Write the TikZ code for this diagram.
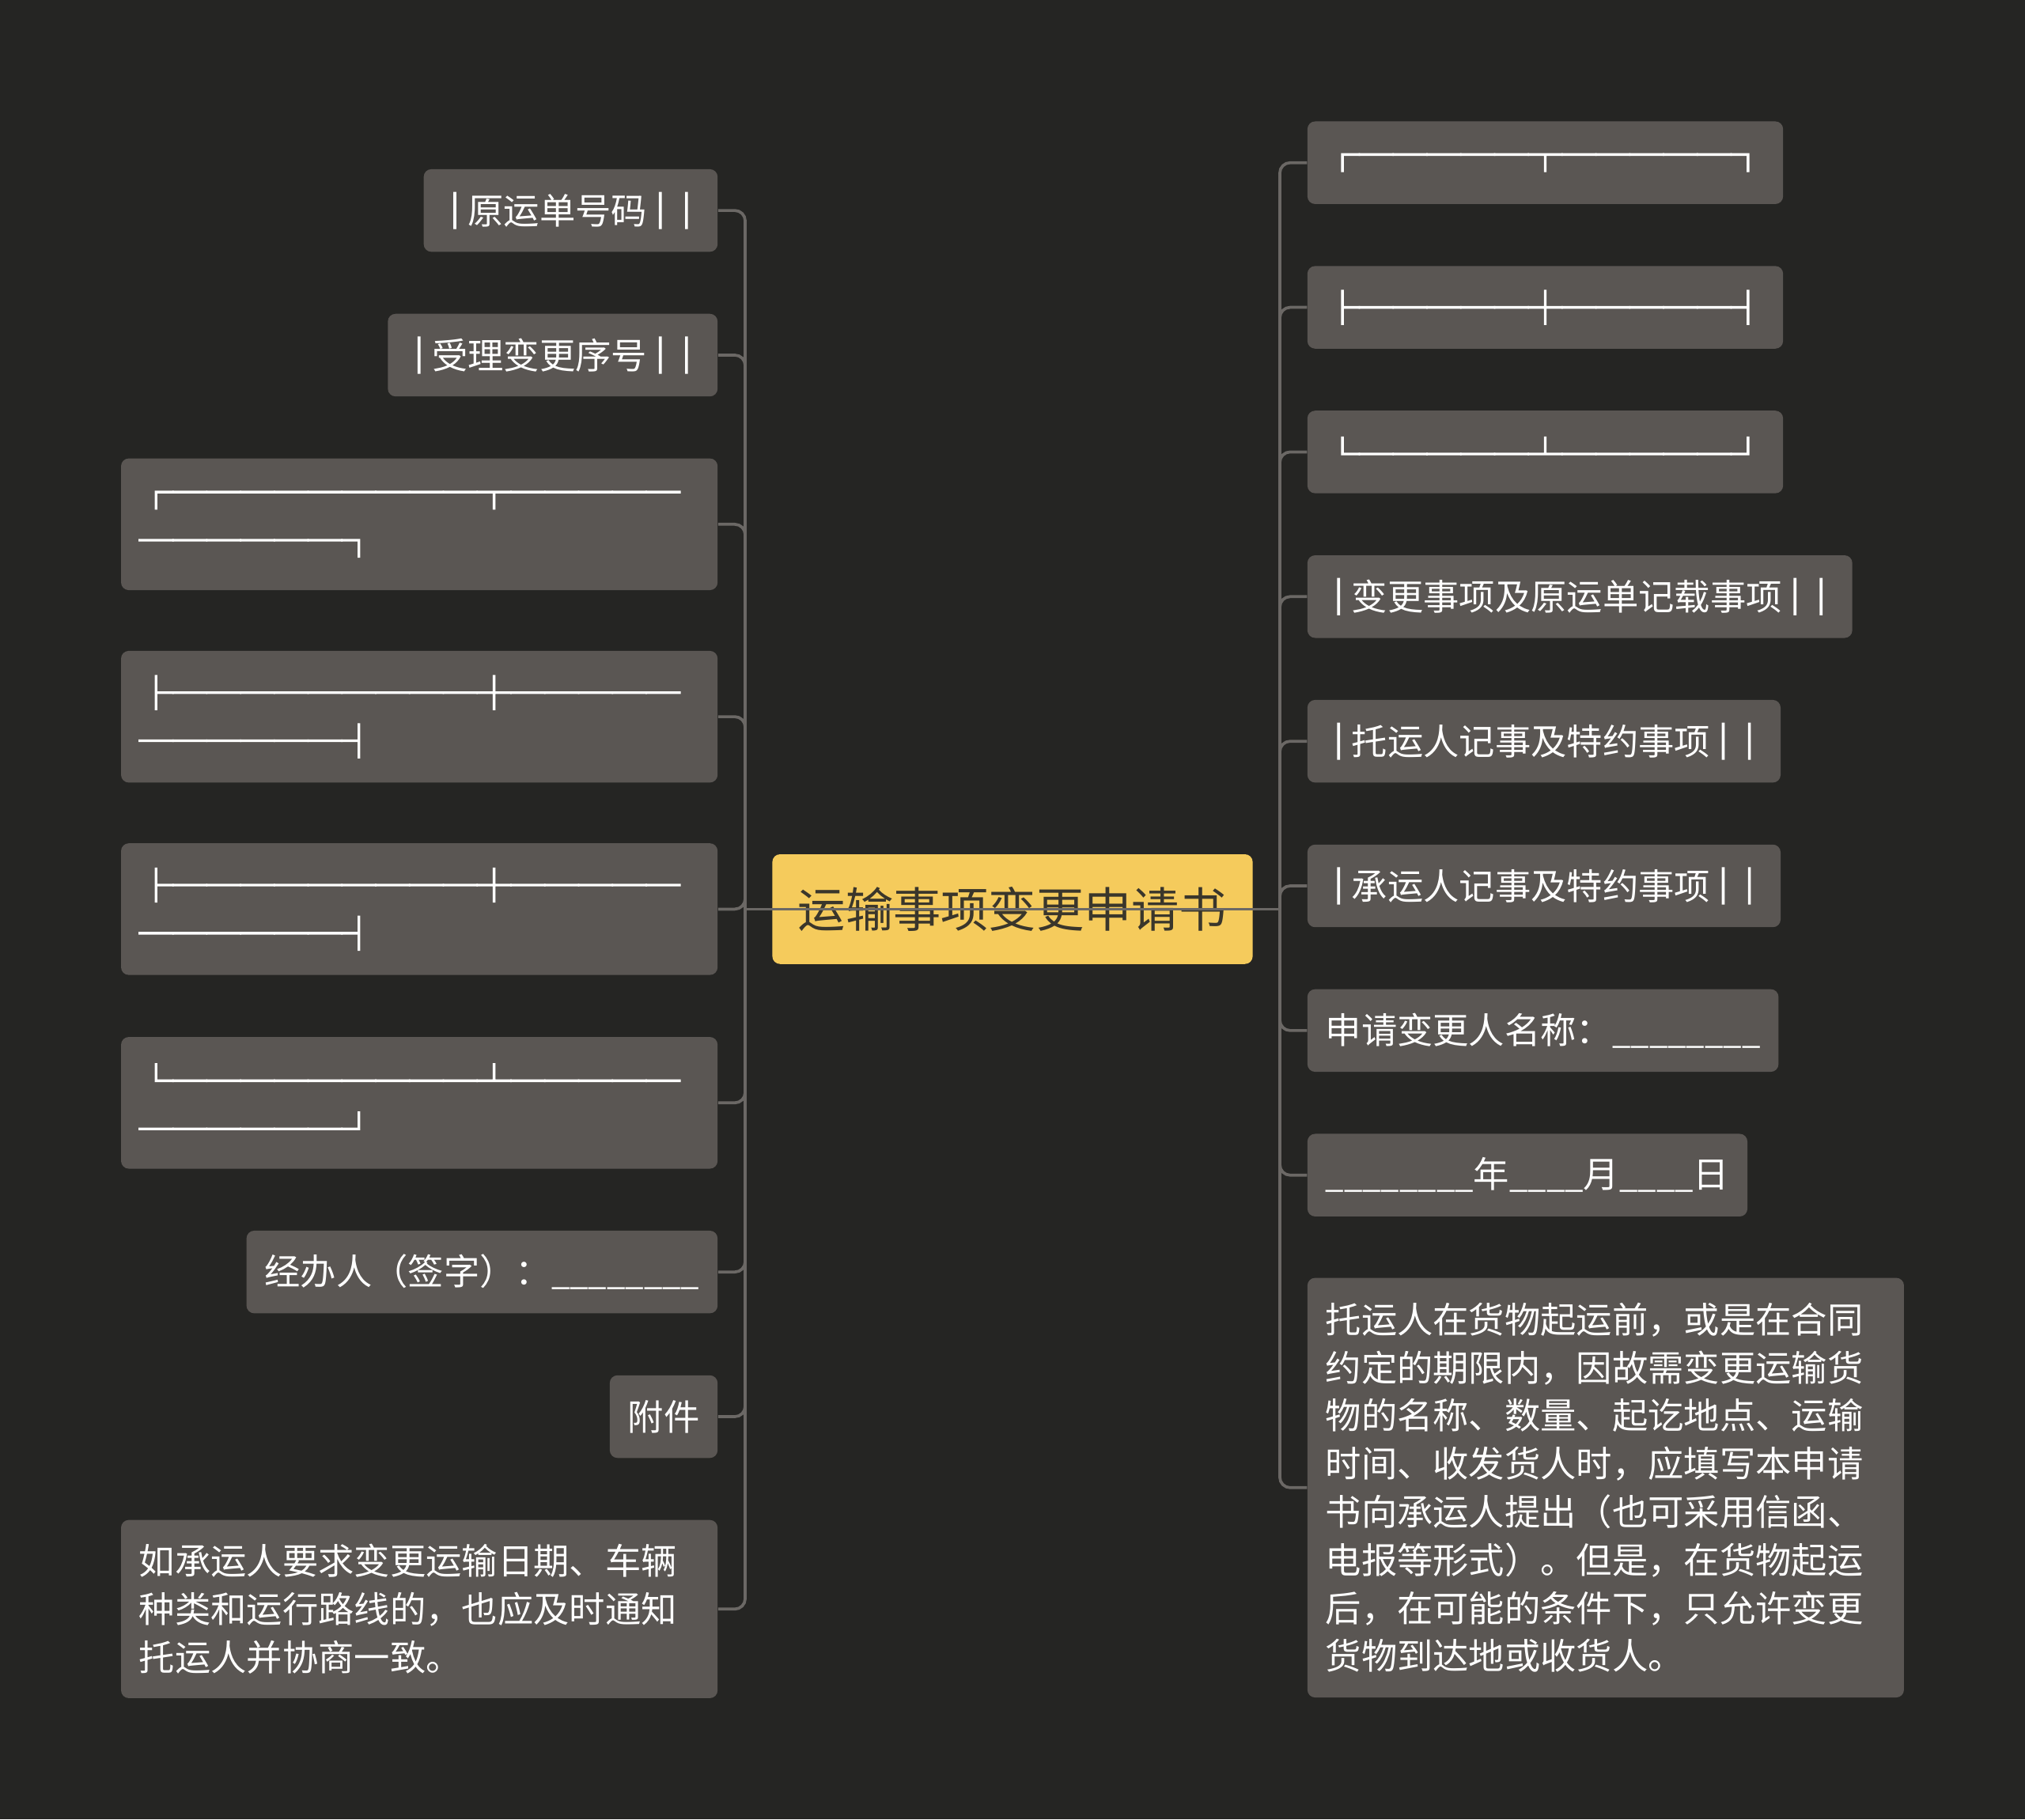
\documentclass[tikz,border=0pt]{standalone}
\usepackage{fontspec}
\newfontfamily\cjk{Noto Sans CJK SC}
\newfontfamily\cjkrule[FakeBold=4]{Noto Sans CJK SC}

\definecolor{bgdark}{HTML}{252523}
\definecolor{boxgray}{HTML}{5A5653}
\definecolor{linkgray}{HTML}{6B6865}
\definecolor{rootyellow}{HTML}{F5CB5C}
\definecolor{roottext}{HTML}{3A362B}

% narrow bold bar and slightly narrower blanks
\newcommand\vbar{\kern-0.135em{\cjkrule │}\kern-0.135em}
\newcommand\blanks[1]{{\fontsize{14.6pt}{21.2pt}\selectfont#1}}

\tikzset{
  topic/.style={rectangle, rounded corners=0.12cm, fill=boxgray, text=white,
    inner xsep=0.28cm, inner ysep=0pt, minimum height=1.28cm,
    font=\cjk\fontsize{15.8pt}{21.2pt}\selectfont},
  rulebox/.style={topic, font=\cjkrule\fontsize{14.9pt}{21.2pt}\selectfont},
  widerule/.style={rulebox, text width=8.68cm, align=left, minimum height=2.04cm},
  para/.style={topic, text width=8.68cm, align=left},
  root/.style={rectangle, rounded corners=0.12cm, fill=rootyellow, text=roottext,
    minimum width=7.44cm, minimum height=1.7cm,
    font=\cjk\fontsize{21pt}{25pt}\selectfont},
  link/.style={draw=linkgray, line width=1.3pt, rounded corners=0.16cm},
}

\begin{document}
\begin{tikzpicture}[x=0.02cm, y=-0.02cm]
  \fill[bgdark] (0,0) rectangle (1568,1409);
  \useasboundingbox (0,0) rectangle (1568,1409);

  % Root:
  \node[root] (root) at (784,704) {运输事项变更申请书};

  % Left branches:
  \node[topic, anchor=east] (waybill) at (556,163) {\vbar 原运单号码\vbar\vbar};
  \node[topic, anchor=east] (serial) at (556,275) {\vbar 受理变更序号\vbar\vbar};
  \node[widerule, anchor=east] (ruleA) at (556,406) {┌─────────┬─────\\──────┐};
  \node[widerule, anchor=east] (ruleB) at (556,555) {├─────────┼─────\\──────┤};
  \node[widerule, anchor=east] (ruleC) at (556,704) {├─────────┼─────\\──────┤};
  \node[widerule, anchor=east] (ruleD) at (556,854) {└─────────┴─────\\──────┘};
  \node[topic, anchor=east] (signer) at (556,985) {经办人（签字）：\blanks{\_\_\_\_\_\_\_\_}};
  \node[topic, anchor=east] (annex) at (556,1097) {附件};
  \node[para, anchor=east, minimum height=2.76cm] (carrier) at (556,1246)
    {如承运人要求变更运输日期、车辆\\种类和运行路线的，也应及时通知\\托运人并协商一致。};

  % Right branches:
  \node[rulebox, anchor=west] (ruleE) at (1012,126) {┌─────┬─────┐};
  \node[rulebox, anchor=west] (ruleF) at (1012,238) {├─────┼─────┤};
  \node[rulebox, anchor=west] (ruleG) at (1012,350) {└─────┴─────┘};
  \node[topic, anchor=west] (changes) at (1012,462) {\vbar 变更事项及原运单记载事项\vbar\vbar};
  \node[topic, anchor=west] (shipper) at (1012,574) {\vbar 托运人记事及特约事项\vbar\vbar};
  \node[topic, anchor=west] (carriernote) at (1012,686) {\vbar 承运人记事及特约事项\vbar\vbar};
  \node[topic, anchor=west] (applicant) at (1012,798) {申请变更人名称：\blanks{\_\_\_\_\_\_\_\_}};
  \node[topic, anchor=west] (date) at (1012,910)
    {\blanks{\_\_\_\_\_\_\_\_}年\blanks{\_\_\_\_}月\blanks{\_\_\_\_}日};
  \node[para, anchor=west, minimum height=6.5cm] (rule) at (1012,1152)
    {托运人在货物起运前，或是在合同\\约定的期限内，因故需变更运输货\\物的名称、数量、起讫地点、运输\\时间、收发货人时，应填写本申请\\书向承运人提出（也可采用信函、\\电报等形式）。但是，在货物起运\\后，在可能的条件下，只允许变更\\货物到达地或收货人。};

  % Wires:
  \coordinate (trunkL) at (577,704);
  \coordinate (trunkR) at (991,704);
  \draw[link] (trunkL) -- (trunkR);
  \draw[link] (trunkL) |- (waybill.east);
  \draw[link] (trunkL) |- (serial.east);
  \draw[link] (trunkL) |- (ruleA.east);
  \draw[link] (trunkL) |- (ruleB.east);
  \draw[link] (trunkL) |- (ruleC.east);
  \draw[link] (trunkL) |- (ruleD.east);
  \draw[link] (trunkL) |- (signer.east);
  \draw[link] (trunkL) |- (annex.east);
  \draw[link] (trunkL) |- (carrier.east);
  \draw[link] (trunkR) |- (ruleE.west);
  \draw[link] (trunkR) |- (ruleF.west);
  \draw[link] (trunkR) |- (ruleG.west);
  \draw[link] (trunkR) |- (changes.west);
  \draw[link] (trunkR) |- (shipper.west);
  \draw[link] (trunkR) |- (carriernote.west);
  \draw[link] (trunkR) |- (applicant.west);
  \draw[link] (trunkR) |- (date.west);
  \draw[link] (trunkR) |- (rule.west);
\end{tikzpicture}
\end{document}
